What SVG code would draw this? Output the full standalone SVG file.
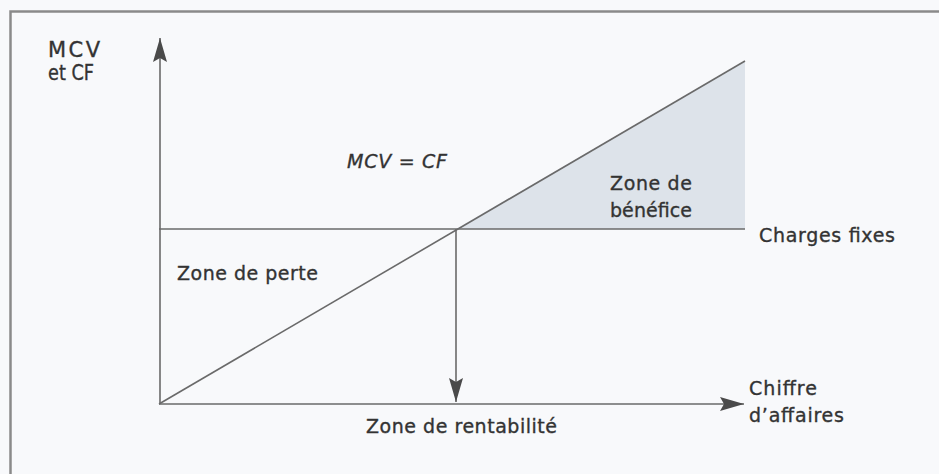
<svg xmlns="http://www.w3.org/2000/svg" width="939" height="474" viewBox="0 0 939 474">
<style>
.t{font-family:"DejaVu Sans","Liberation Sans",sans-serif;font-size:19px;fill:#333;stroke:#333;stroke-width:0.35}
.big{font-size:21px}
.ln{stroke:#6a6a6a;stroke-width:1.6;fill:none}
</style>
<defs>
<marker id="ah" viewBox="0 0 24 14" refX="24" refY="7" markerWidth="24" markerHeight="14" markerUnits="userSpaceOnUse" orient="auto">
<path d="M0,0 L24,7 L0,14 L4,7 Z" fill="#4a4a4a"/>
</marker>
</defs>
<rect x="0" y="0" width="939" height="474" fill="#f8f9fb"/>
<rect x="10.5" y="11.5" width="940" height="480" fill="none" stroke="#8a8a8a" stroke-width="2.5"/>
<g id="zone-benefice-shade">
<polygon points="456,229 745,61 745,229" fill="#dde3ea"/>
</g>
<g id="connectors">
<line class="ln" x1="160" y1="404" x2="160" y2="38" marker-end="url(#ah)"/>
<line class="ln" x1="159" y1="404" x2="744" y2="404" marker-end="url(#ah)"/>
<line class="ln" x1="159" y1="229" x2="745" y2="229"/>
<line class="ln" x1="159" y1="404" x2="745" y2="61"/>
<line class="ln" x1="456" y1="229" x2="456" y2="402" marker-end="url(#ah)"/>
</g>
<g id="axis-y-label">
<text class="t big" x="48" y="57" textLength="52">MCV</text>
<text class="t big" x="48" y="80" textLength="46" lengthAdjust="spacingAndGlyphs">et CF</text>
</g>
<g id="equation">
<text class="t" x="347" y="168" font-style="italic" textLength="100">MCV = CF</text>
</g>
<g id="zone-benefice">
<text class="t" x="610" y="190" textLength="82">Zone de</text>
<text class="t" x="610" y="217" textLength="82">bénéfice</text>
</g>
<g id="charges-fixes">
<text class="t" x="759" y="242" textLength="136">Charges fixes</text>
</g>
<g id="zone-perte">
<text class="t" x="177" y="280" textLength="141">Zone de perte</text>
</g>
<g id="axis-x-label">
<text class="t" x="749" y="395" textLength="68">Chiffre</text>
<text class="t" x="749" y="422" textLength="95">d’affaires</text>
</g>
<g id="zone-rentabilite">
<text class="t" x="366" y="433" textLength="191">Zone de rentabilité</text>
</g>
</svg>
